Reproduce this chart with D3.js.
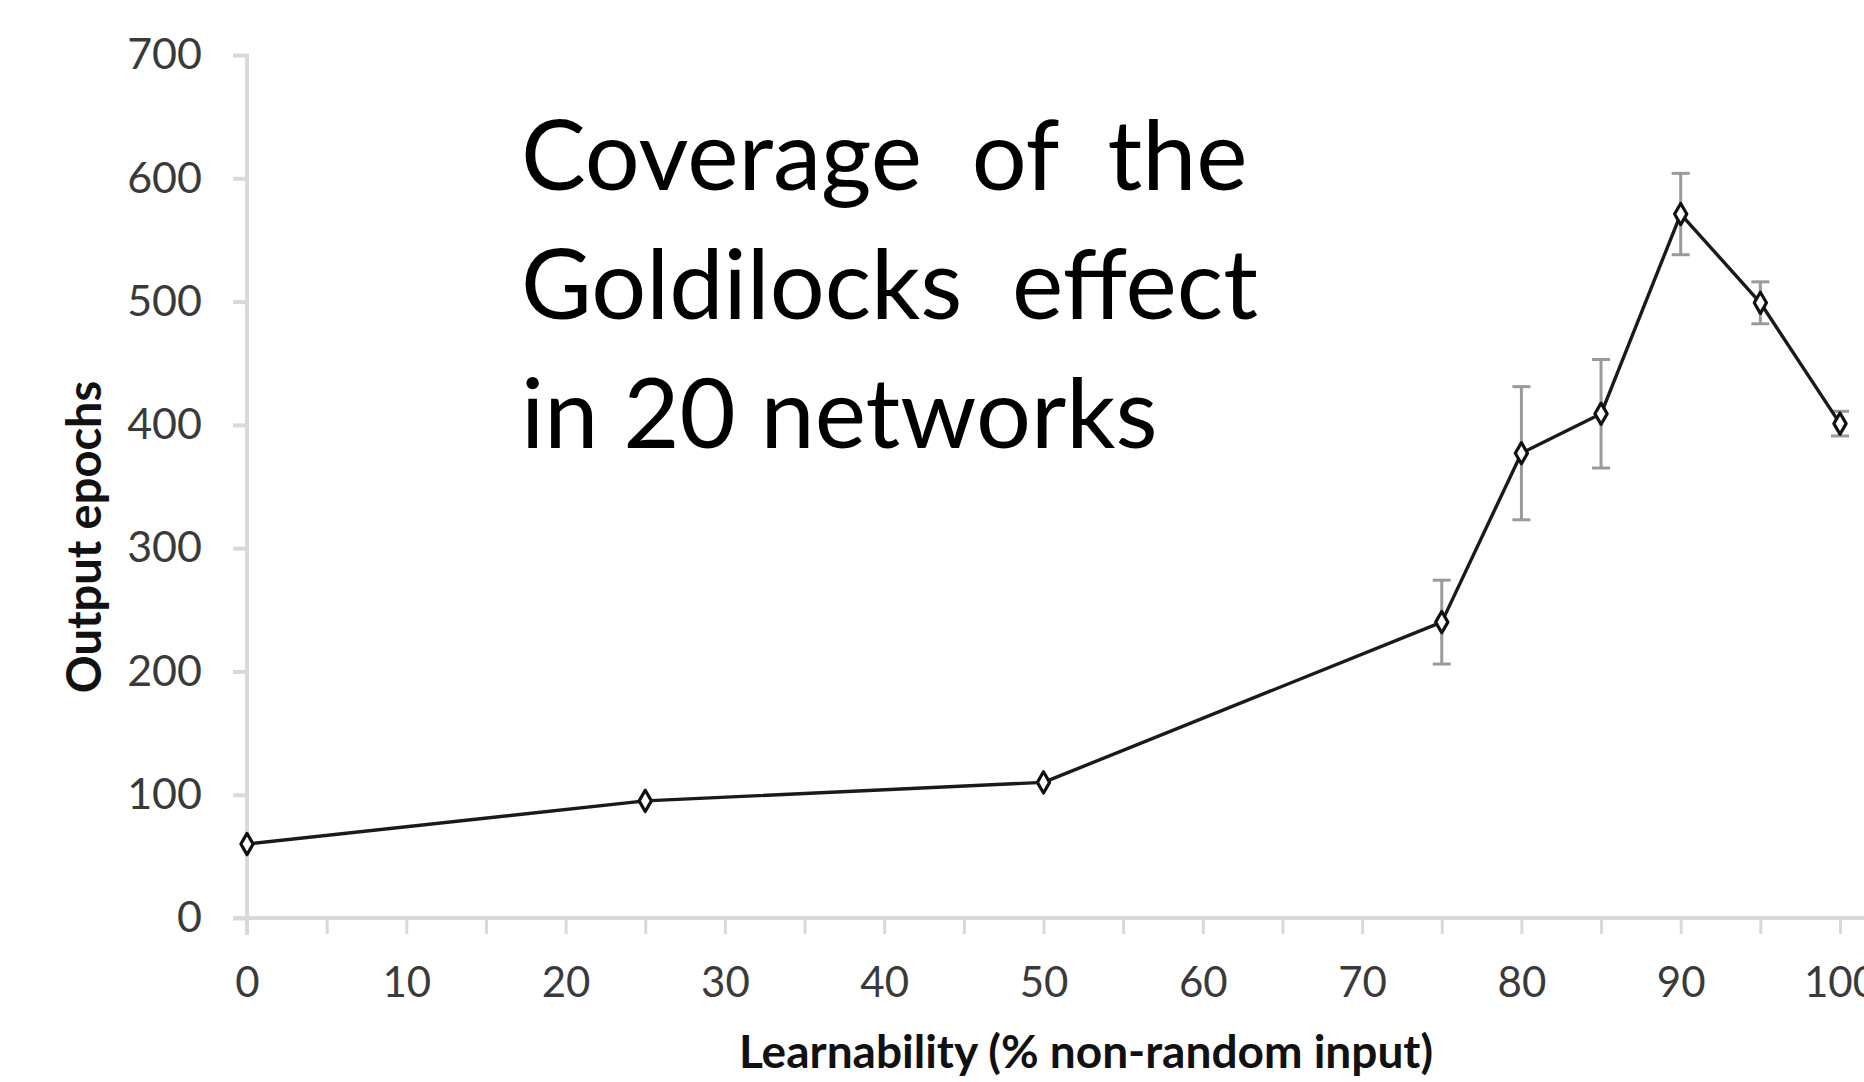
<!DOCTYPE html>
<html>
<head>
<meta charset="utf-8">
<script src="https://cdn.jsdelivr.net/npm/d3@7/dist/d3.min.js"></script>
<style>
  html, body { margin: 0; padding: 0; background: #fff; overflow: hidden; }
  svg { display: block; }
  text { font-family: Lato, "Open Sans", sans-serif; }
</style>
</head>
<body>
<svg id="chart" width="1864" height="1082"></svg>
<script>
// Learnability levels (% non-random input)
const learnability = [0, 25, 50, 75, 80, 85, 90, 95, 100];
// Mean output epochs at each level
const epochs = [60, 95, 110, 240, 377, 409, 571, 499, 401];
// Error bar half-widths
const errors = [0, 0, 0, 34, 54, 44, 33, 17, 10];
const yTicks = [0, 100, 200, 300, 400, 500, 600, 700];
const xTicks = [0, 10, 20, 30, 40, 50, 60, 70, 80, 90, 100];
const xMinorTicks = d3.range(0, 101, 5);
const noteLines = ["Coverage  of  the", "Goldilocks  effect", "in 20 networks"];

const svg = d3.select("#chart");
const W = 1864, H = 1082;

const x = d3.scaleLinear().domain([0, 100]).range([247, 1840]);
const y = d3.scaleLinear().domain([0, 700]).range([918, 55]);

const axisColor = "#d9d9d9";
const labelColor = "#3a3a3a";

// axis lines
svg.append("line")
  .attr("x1", x(0) - 14).attr("x2", W)
  .attr("y1", y(0)).attr("y2", y(0))
  .attr("stroke", axisColor).attr("stroke-width", 4);
svg.append("line")
  .attr("x1", x(0)).attr("x2", x(0))
  .attr("y1", y(700) - 1).attr("y2", y(0) + 17)
  .attr("stroke", axisColor).attr("stroke-width", 4);

// y axis ticks and labels
const yAxis = svg.append("g")
  .attr("transform", `translate(${x(0)},0)`)
  .call(d3.axisLeft(y).tickValues(yTicks).tickSize(14).tickPadding(31).tickFormat(d3.format("d")));
yAxis.select(".domain").remove();
yAxis.selectAll(".tick line").attr("stroke", axisColor).attr("stroke-width", 4);
yAxis.selectAll(".tick text")
  .attr("fill", labelColor)
  .style("font-family", "Lato, sans-serif")
  .style("font-size", "43px");

// x axis ticks (every 5) and labels (every 10)
const xAxis = svg.append("g")
  .attr("transform", `translate(0,${y(0)})`)
  .call(d3.axisBottom(x).tickValues(xMinorTicks).tickSize(16).tickPadding(33)
    .tickFormat(d => xTicks.includes(d) ? d : ""));
xAxis.select(".domain").remove();
xAxis.selectAll(".tick line").attr("stroke", axisColor).attr("stroke-width", 3);
xAxis.selectAll(".tick text")
  .attr("fill", labelColor)
  .style("font-family", "Lato, sans-serif")
  .style("font-size", "42px");

// axis titles
svg.append("text")
  .attr("transform", `translate(83,${537}) rotate(-90)`)
  .attr("text-anchor", "middle")
  .attr("dominant-baseline", "central")
  .attr("fill", "#111")
  .style("font-weight", "bold")
  .style("font-size", "47px")
  .text("Output epochs");

svg.append("text")
  .attr("x", 1086).attr("y", 1050)
  .attr("text-anchor", "middle")
  .attr("dominant-baseline", "central")
  .attr("fill", "#111")
  .style("font-weight", "bold")
  .style("font-size", "46px")
  .text("Learnability (% non-random input)");

// data
const data = learnability.map((v, i) => ({ x: v, y: epochs[i], e: errors[i] }));

// error bars
const eb = svg.append("g").attr("stroke", "#9a9a9a").attr("stroke-width", 3);
data.filter(d => d.e > 0).forEach(d => {
  eb.append("line").attr("x1", x(d.x)).attr("x2", x(d.x))
    .attr("y1", y(d.y + d.e)).attr("y2", y(d.y - d.e));
  eb.append("line").attr("x1", x(d.x) - 9).attr("x2", x(d.x) + 9)
    .attr("y1", y(d.y + d.e)).attr("y2", y(d.y + d.e));
  eb.append("line").attr("x1", x(d.x) - 9).attr("x2", x(d.x) + 9)
    .attr("y1", y(d.y - d.e)).attr("y2", y(d.y - d.e));
});

// series line
svg.append("path")
  .datum(data)
  .attr("fill", "none")
  .attr("stroke", "#1a1a1a")
  .attr("stroke-width", 3.4)
  .attr("stroke-linejoin", "round")
  .attr("d", d3.line().x(d => x(d.x)).y(d => y(d.y)));

// markers
svg.append("g").selectAll("path")
  .data(data)
  .join("path")
  .attr("transform", d => `translate(${x(d.x)},${y(d.y)})`)
  .attr("d", d3.symbol().type(d3.symbolDiamond).size(130))
  .attr("fill", "#fff")
  .attr("stroke", "#111")
  .attr("stroke-width", 3.2)
  .attr("stroke-linejoin", "round");

// annotation
const note = svg.append("text")
  .attr("fill", "#000")
  .style("font-size", "97px")
  .style("white-space", "pre")
  .attr("xml:space", "preserve");
noteLines.forEach((t, i) => {
  note.append("tspan").attr("x", 521).attr("y", 190 + i * 129).text(t);
});
</script>
</body>
</html>
